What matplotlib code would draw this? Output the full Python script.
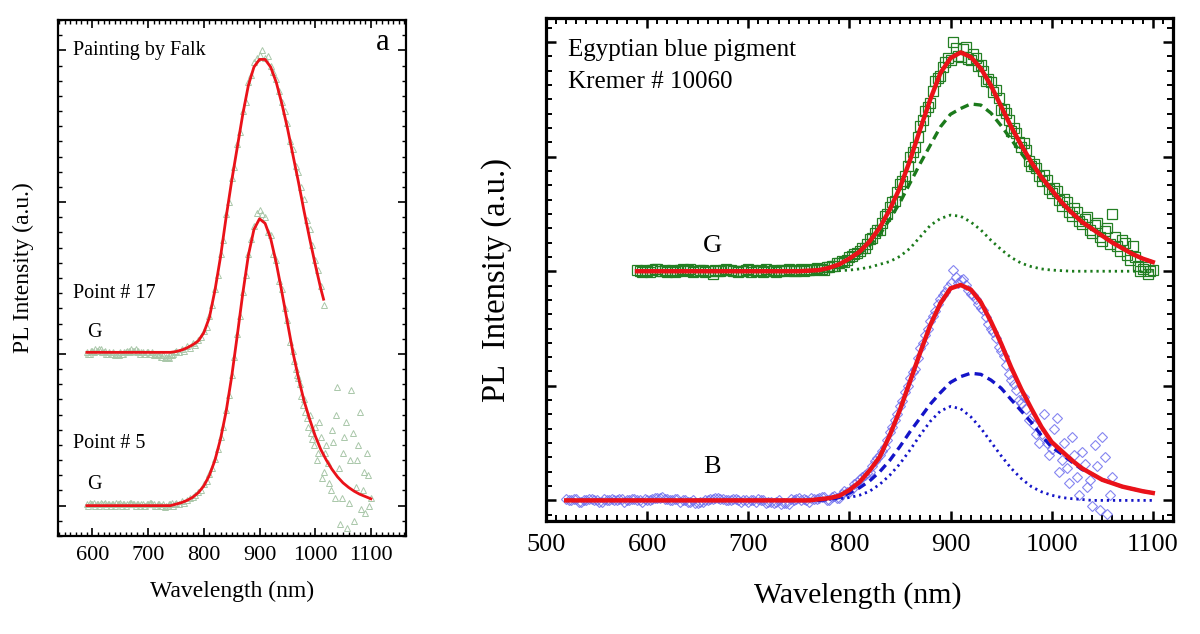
import numpy as np
import matplotlib
matplotlib.use("Agg")
import matplotlib.pyplot as plt
from matplotlib.ticker import MultipleLocator

plt.rcParams['font.family'] = ['Liberation Serif', 'DejaVu Serif']

# ---------------- LEFT PANEL (a) : painting by Falk ----------------
# fitted curves (10 nm grid)
p5_fit_wl = list(range(590, 1101, 10))
p5_fit = [0.0] * 16 + [
    0.01, 0.02, 0.035, 0.055, 0.085, 0.13, 0.20, 0.30, 0.44, 0.62,
    0.85, 1.12, 1.40, 1.65, 1.82, 1.89, 1.86, 1.76, 1.60, 1.41,
    1.21, 1.01, 0.84, 0.69, 0.57, 0.46, 0.37, 0.30, 0.24, 0.19,
    0.15, 0.12, 0.095, 0.075, 0.06, 0.045]

p17_fit_wl = list(range(590, 1011, 10)) + [1015]
p17_fit = [0.01] * 16 + [
    0.015, 0.025, 0.04, 0.06, 0.085, 0.14, 0.24, 0.42, 0.64, 0.90,
    1.14, 1.36, 1.58, 1.77, 1.89, 1.94, 1.94, 1.89, 1.79, 1.65,
    1.49, 1.31, 1.13, 0.94, 0.76, 0.59, 0.43, 0.36]

# measured points (5 nm grid)
p17_wl = list(range(590, 1016, 5))
p17_data = [
    0.01, 0.00, 0.02, 0.03, 0.02, 0.03, 0.01, 0.00, 0.01, 0.00,
    -0.01, 0.00, 0.01, 0.00, 0.01, 0.02, 0.03, 0.02, 0.01, 0.00,
    0.01, 0.00, 0.01, 0.00, -0.01, 0.00, -0.01, -0.02, -0.03, -0.02,
    -0.01, 0.00,
    0.02, 0.01, 0.03, 0.02, 0.05, 0.04, 0.07, 0.06, 0.09, 0.11,
    0.15, 0.18, 0.25, 0.32, 0.43, 0.52, 0.66, 0.75, 0.92, 1.00,
    1.16, 1.23, 1.38, 1.46, 1.60, 1.66, 1.79, 1.84, 1.92, 1.95,
    1.97, 2.00, 1.95, 1.96, 1.90, 1.86, 1.81, 1.73, 1.66, 1.60,
    1.52, 1.40, 1.35, 1.24, 1.20, 1.10, 1.02, 0.88, 0.82, 0.72,
    0.62, 0.55, 0.45, 0.32]
p17_base_wl = [592.5 + 5 * i for i in range(32)]
p17_base = [
    0.00, 0.02, 0.01, 0.02, 0.03, 0.01, 0.02, 0.00, 0.00, 0.01,
    0.00, -0.01, 0.00, 0.01, 0.02, 0.01, 0.02, 0.03, 0.02, 0.01,
    0.00, 0.01, 0.00, 0.01, 0.00, -0.01, -0.02, -0.01, -0.02, -0.03,
    -0.01, 0.01]

p5_wl = list(range(590, 1101, 5))
p5_data = [
    0.01, 0.02, 0.01, 0.00, 0.01, 0.02, 0.01, 0.00, 0.01, 0.01,
    0.00, 0.01, 0.02, 0.01, 0.00, 0.01, 0.02, 0.01, 0.01, 0.00,
    0.01, 0.00, 0.01, 0.02, 0.01, 0.00, 0.01, 0.00, -0.01, 0.00,
    0.01, 0.00,
    0.02, 0.01, 0.03, 0.02, 0.04, 0.05, 0.06, 0.07, 0.09, 0.10,
    0.14, 0.16, 0.21, 0.25, 0.31, 0.37, 0.45, 0.52, 0.63, 0.73,
    0.86, 0.98, 1.13, 1.25, 1.41, 1.52, 1.66, 1.76, 1.84, 1.93,
    1.95, 1.92, 1.90, 1.80, 1.78, 1.66, 1.62, 1.48, 1.43, 1.30,
    1.22, 1.08, 1.02, 0.90, 0.84, 0.72, 0.70, 0.58, 0.60, 0.44,
    0.52, 0.35, 0.45, 0.22, 0.40, 0.15, 0.50, 0.05, 0.78, -0.12,
    0.35, 0.55, 0.02, 0.76, -0.10, 0.30, 0.62, 0.10, -0.05, 0.20,
    0.05]
p5_base_wl = [592.5 + 5 * i for i in range(32)]
p5_base = [
    0.00, 0.01, 0.02, 0.01, 0.00, 0.01, 0.02, 0.01, 0.00, 0.01,
    0.02, 0.01, 0.00, 0.01, 0.01, 0.02, 0.01, 0.00, 0.01, 0.01,
    0.00, 0.01, 0.02, 0.01, 0.00, 0.01, 0.00, 0.01, 0.00, 0.01,
    0.02, 0.01]
p5_tail_wl = [962.5 + 5 * i for i in range(28)]
p5_tail = [
    0.95, 0.86, 0.80, 0.66, 0.62, 0.52, 0.48, 0.40, 0.30, 0.55,
    0.18, 0.35, 0.28, 0.10, 0.42, 0.60, 0.25, 0.05, 0.45, -0.15,
    0.30, 0.48, 0.12, 0.40, -0.02, 0.22, 0.35, 0.00]

# ---------------- RIGHT PANEL : Egyptian blue pigment ----------------
g_fit_wl = list(range(590, 1101, 10))
g_fit = [0.0] * 17 + [
    0.005, 0.01, 0.03, 0.06, 0.11, 0.17, 0.26, 0.38, 0.54, 0.73,
    0.97, 1.24, 1.50, 1.73, 1.86, 1.91, 1.87, 1.77, 1.62, 1.44,
    1.26, 1.10, 0.95, 0.82, 0.71, 0.60, 0.51, 0.43, 0.37, 0.31,
    0.25, 0.20, 0.15, 0.11, 0.08]
g_comp1 = [0.0] * 19 + [
    0.02, 0.05, 0.10, 0.15, 0.225, 0.32, 0.455, 0.60, 0.77, 0.94,
    1.10, 1.26, 1.37, 1.42, 1.46, 1.45, 1.38, 1.27, 1.15, 1.03,
    0.91, 0.80, 0.70, 0.595, 0.51, 0.43, 0.37, 0.31, 0.25, 0.20,
    0.15, 0.11, 0.08]
g_comp2 = [0.0] * 20 + [
    0.005, 0.01, 0.02, 0.035, 0.06, 0.085, 0.13, 0.20, 0.30, 0.40,
    0.46, 0.49, 0.48, 0.43, 0.36, 0.27, 0.19, 0.12, 0.07, 0.04,
    0.02, 0.01, 0.005] + [0.0] * 9

g_wl = list(range(590, 1101, 5))
g_data = [
    0.01, -0.01, 0.0, 0.01, 0.02, 0.0, -0.01, 0.01, 0.0, 0.02,
    0.01, -0.01, 0.0, 0.01, 0.0, -0.02, 0.0, 0.01, 0.01, 0.0,
    -0.01, 0.0, 0.02, 0.01, 0.0, -0.01, 0.0, 0.01, 0.0, 0.01,
    0.02, 0.0, 0.01, 0.0, 0.01,
    0.01, 0.02, 0.01, 0.04, 0.05, 0.07, 0.08, 0.12, 0.15, 0.18,
    0.20, 0.28, 0.33, 0.36, 0.48, 0.56, 0.61, 0.76, 0.83, 1.00,
    1.08, 1.27, 1.40, 1.47, 1.66, 1.70, 1.83, 1.84, 1.95, 1.87,
    1.96, 1.84, 1.86, 1.80, 1.66, 1.65, 1.58, 1.41, 1.38, 1.22,
    1.21, 1.08, 1.06, 0.92, 0.90, 0.79, 0.80, 0.68, 0.70, 0.57,
    0.60, 0.48, 0.52, 0.41, 0.47, 0.33, 0.42, 0.26, 0.38, 0.50,
    0.22, 0.27, 0.14, 0.22, 0.05, 0.02, -0.02, 0.01]
g_wl2 = [592.5 + 5 * i for i in range(102)]
g_data2 = [
    0.0, 0.01, -0.01, 0.02, 0.0, 0.01, 0.0, -0.01, 0.01, 0.0,
    0.02, 0.0, 0.01, -0.01, 0.0, 0.01, 0.0, 0.02, 0.01, 0.0,
    0.0, 0.01, -0.01, 0.0, 0.01, 0.02, 0.0, -0.01, 0.01, 0.0,
    0.01, 0.0, 0.02, 0.01, 0.02, 0.03, 0.02, 0.04, 0.05, 0.07,
    0.09, 0.10,
    0.13, 0.16, 0.20, 0.24, 0.29, 0.36, 0.42, 0.50, 0.60, 0.69,
    0.79, 0.92, 1.04, 1.17, 1.32, 1.43, 1.57, 1.69, 1.78, 1.86,
    2.00, 1.88, 1.94, 1.85, 1.90, 1.79, 1.75, 1.68, 1.56, 1.51,
    1.42, 1.32,
    1.25, 1.13, 1.12, 0.96, 0.94, 0.83, 0.84, 0.72, 0.73, 0.62,
    0.63, 0.52, 0.55, 0.44, 0.46, 0.36, 0.40, 0.30, 0.35, 0.24,
    0.30, 0.18, 0.25, 0.10, 0.12, 0.00, 0.04, 0.00]

b_fit_wl = list(range(520, 1101, 10))
b_fit = [0.0] * 25 + [
    0.01, 0.02, 0.04, 0.09, 0.16, 0.26, 0.38, 0.57, 0.79, 1.04,
    1.29, 1.53, 1.72, 1.85, 1.88, 1.84, 1.73, 1.56, 1.37, 1.16,
    0.97, 0.80, 0.64, 0.51, 0.43, 0.35, 0.28, 0.23, 0.18, 0.15,
    0.12, 0.10, 0.08, 0.065]
b_comp1 = [0.0] * 26 + [
    0.01, 0.025, 0.065, 0.11, 0.17, 0.25, 0.35, 0.47, 0.60, 0.72,
    0.84, 0.94, 1.03, 1.08, 1.11, 1.10, 1.05, 0.98, 0.88, 0.78,
    0.68, 0.565, 0.465, 0.405, 0.335, 0.27, 0.23, 0.18, 0.15, 0.12,
    0.10, 0.08, 0.065]
b_comp2 = [0.0] * 26 + [
    0.01, 0.015, 0.025, 0.045, 0.08, 0.14, 0.22, 0.32, 0.44, 0.57,
    0.69, 0.78, 0.82, 0.80, 0.73, 0.63, 0.51, 0.39, 0.28, 0.19,
    0.12, 0.075, 0.045, 0.025, 0.015, 0.008] + [0.0] * 7

b_wl = list(range(520, 1061, 5))
b_data = [
    0.01, 0.00, 0.01, -0.01, 0.00, 0.01, 0.00, -0.01, 0.00, 0.01,
    0.00, 0.01, 0.00, 0.01, 0.00, -0.01, 0.00, 0.01, 0.02, 0.03,
    0.01, 0.00, 0.01, 0.00, -0.01, 0.00, -0.02, -0.01, 0.00, 0.01,
    0.02, 0.01, 0.00, 0.01, 0.00, 0.00, -0.01, 0.00, 0.01, 0.00,
    -0.01, -0.02, 0.00, -0.02, -0.03, 0.00, 0.02, 0.01, -0.01, 0.01,
    0.02,
    0.03, 0.00, 0.04, 0.02, 0.08, 0.07, 0.14, 0.19, 0.22, 0.25,
    0.34, 0.40, 0.47, 0.60, 0.70, 0.82, 0.95, 1.07, 1.15, 1.33,
    1.44, 1.57, 1.65, 1.76, 1.82, 1.90, 1.95, 1.92, 1.88, 1.80,
    1.76, 1.68, 1.60, 1.50, 1.42, 1.30, 1.18, 1.05, 0.96, 0.85,
    0.80, 0.72, 0.58, 0.58, 0.50, 0.45, 0.72, 0.35, 0.28, 0.55,
    0.20, 0.42, 0.12, -0.05, 0.30, 0.55, -0.12, 0.20]
b_wl2 = [522.5 + 5 * i for i in range(108)]
b_data2 = [
    0.00, 0.01, -0.01, 0.00, 0.01, 0.00, -0.01, 0.01, 0.00, 0.00,
    0.01, -0.01, 0.00, 0.01, 0.00, 0.01, 0.00, 0.02, 0.02, 0.01,
    0.00, 0.01, -0.01, 0.00, -0.01, -0.02, -0.01, 0.00, 0.01, 0.02,
    0.01, 0.00, 0.00, 0.01, -0.01, 0.00, 0.00, -0.01, 0.00, -0.02,
    -0.01, -0.01, -0.03, -0.02, 0.01, 0.01, 0.00, 0.00, 0.02, 0.01,
    0.03, 0.00, 0.03, 0.02, 0.06, 0.07,
    0.10, 0.16, 0.20, 0.24, 0.30, 0.37, 0.43, 0.53, 0.64, 0.75,
    0.87, 1.00, 1.12, 1.24, 1.37, 1.50, 1.61, 1.71, 1.79, 1.86,
    2.01, 1.90, 1.93, 1.84, 1.79, 1.71, 1.66, 1.54, 1.47, 1.34,
    1.26, 1.10,
    1.02, 0.88, 0.90, 0.70, 0.66, 0.50, 0.75, 0.40, 0.62, 0.25,
    0.50, 0.15, 0.40, 0.05, 0.32, 0.18, 0.48, -0.08, 0.38, 0.05]

P17_OFFSET = 1.0
G_OFFSET = 2.0

RED = '#ea1219'
GREEN = '#1b7a1b'
GREEN_PTS = '#237f23'
BLUE = '#1414c8'
BLUE_PTS = '#7070ee'
TRI = '#a9c7a9'

fig = plt.figure(figsize=(12, 6.34), dpi=100)
axL = fig.add_axes([0.0483, 0.1546, 0.29, 0.8139])
axR = fig.add_axes([0.455, 0.1782, 0.5225, 0.7934])

# ---- left panel drawing ----
tri_kw = dict(ls='none', marker='^', ms=4.5, mfc='none', mec=TRI, mew=0.7)
axL.plot(p17_wl, np.array(p17_data) + P17_OFFSET, **tri_kw)
axL.plot(p17_base_wl, np.array(p17_base) + P17_OFFSET, **tri_kw)
axL.plot(p5_wl, p5_data, **tri_kw)
axL.plot(p5_base_wl, p5_base, **tri_kw)
axL.plot(p5_tail_wl, p5_tail, **tri_kw)
axL.plot(p17_fit_wl, np.array(p17_fit) + P17_OFFSET, color=RED, lw=2.0)
axL.plot(p5_fit_wl, p5_fit, color=RED, lw=2.0)

axL.set_xlim(538, 1163)
axL.set_ylim(-0.2, 3.2)
axL.xaxis.set_major_locator(MultipleLocator(100))
axL.xaxis.set_minor_locator(MultipleLocator(10))
axL.yaxis.set_major_locator(MultipleLocator(1))
axL.yaxis.set_minor_locator(MultipleLocator(0.1))
axL.tick_params(which='both', direction='in', top=True, right=True,
                labelleft=False)
axL.tick_params(which='major', length=6, width=1.2, labelsize=16, pad=7)
axL.tick_params(which='minor', length=3, width=1.0)
for s in axL.spines.values():
    s.set_linewidth(1.6)
axL.set_xlabel('Wavelength (nm)', fontsize=17)
axL.set_ylabel('PL Intensity (a.u.)', fontsize=17)
axL.xaxis.set_label_coords(0.5, -0.108)
axL.xaxis.label.set_verticalalignment('center')
axL.yaxis.set_label_coords(-0.098, 0.52)
axL.yaxis.label.set_verticalalignment('center')

axL.text(565, 3.0, 'Painting by Falk', fontsize=14.5, ha='left', va='center')
axL.text(1121, 3.05, 'a', fontsize=22, ha='center', va='center')
axL.text(565, 1.40, 'Point # 17', fontsize=14.5, ha='left', va='center')
axL.text(604, 1.14, 'G', fontsize=14.5, ha='center', va='center')
axL.text(565, 0.41, 'Point # 5', fontsize=14.5, ha='left', va='center')
axL.text(604, 0.14, 'G', fontsize=14.5, ha='center', va='center')

# ---- right panel drawing ----
sq_kw = dict(ls='none', marker='s', ms=6.5, mfc='none', mec=GREEN_PTS, mew=0.9)
dm_kw = dict(ls='none', marker='D', ms=5.2, mfc='none', mec=BLUE_PTS, mew=0.8,
             alpha=0.85)
axR.plot(g_wl, np.array(g_data) + G_OFFSET, **sq_kw)
axR.plot(g_wl2, np.array(g_data2) + G_OFFSET, **sq_kw)
axR.plot(b_wl, b_data, **dm_kw)
axR.plot(b_wl2, b_data2, **dm_kw)

axR.plot(g_fit_wl, np.array(g_comp1) + G_OFFSET, color=GREEN, lw=2.4,
         ls=(0, (2.6, 1.6)))
axR.plot(g_fit_wl, np.array(g_comp2) + G_OFFSET, color=GREEN, lw=2.0,
         ls=(0, (0.8, 1.4)))
axR.plot(b_fit_wl, b_comp1, color=BLUE, lw=2.4, ls=(0, (2.6, 1.6)))
axR.plot(b_fit_wl, b_comp2, color=BLUE, lw=2.0, ls=(0, (0.8, 1.4)))
axR.plot(g_fit_wl, np.array(g_fit) + G_OFFSET, color=RED, lw=3.2)
axR.plot(b_fit_wl, b_fit, color=RED, lw=3.2)

axR.set_xlim(500, 1120)
axR.set_ylim(-0.18, 4.21)
axR.xaxis.set_major_locator(MultipleLocator(100))
axR.xaxis.set_minor_locator(MultipleLocator(10))
axR.yaxis.set_major_locator(MultipleLocator(1))
axR.yaxis.set_minor_locator(MultipleLocator(0.125))
axR.tick_params(which='both', direction='in', top=True, right=True,
                labelleft=False)
axR.tick_params(which='major', length=7.5, width=1.8, labelsize=19, pad=9)
axR.tick_params(which='minor', length=4.5, width=1.4)
for s in axR.spines.values():
    s.set_linewidth(2.3)
axR.set_xlabel('Wavelength (nm)', fontsize=21.5)
axR.set_ylabel('PL  Intensity (a.u.)', fontsize=23.5)
axR.xaxis.set_label_coords(0.4976, -0.149)
axR.xaxis.label.set_verticalalignment('center')
axR.yaxis.set_label_coords(-0.078, 0.48)
axR.yaxis.label.set_verticalalignment('center')

axR.text(522, 3.93, 'Egyptian blue pigment', fontsize=18, ha='left',
         va='center')
axR.text(522, 3.65, 'Kremer # 10060', fontsize=18, ha='left', va='center')
axR.text(665, 2.22, 'G', fontsize=19, ha='center', va='center')
axR.text(664, 0.29, 'B', fontsize=19, ha='center', va='center')

fig.savefig('out.png', dpi=100)
